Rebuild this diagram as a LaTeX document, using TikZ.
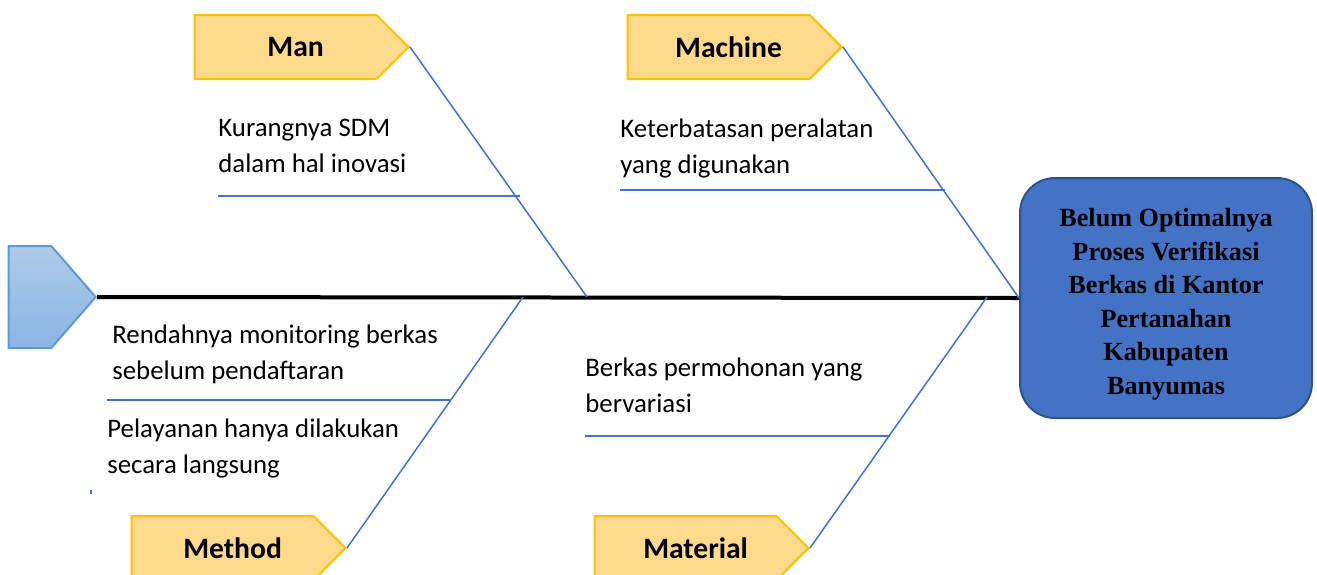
\documentclass[tikz,border=0pt]{standalone}
\usepackage{fontspec}
\setmainfont{Carlito}
\newfontfamily\headfont{Liberation Serif}
\usetikzlibrary{shapes.symbols}

\definecolor{bonecol}{HTML}{4472C4}
\definecolor{catfill}{HTML}{FFD98C}
\definecolor{catline}{HTML}{FFC000}
\definecolor{tailtop}{HTML}{AECAEA}
\definecolor{tailbot}{HTML}{8DB3E2}
\definecolor{tailline}{HTML}{5B9BD5}
\definecolor{headline}{HTML}{2F528F}

\tikzset{
  cat/.style={signal, signal to=east, signal pointer angle=90, draw=catline, fill=catfill,
    line width=1pt, minimum width=107pt, minimum height=32pt, anchor=east,
    font=\fontsize{14.8}{17}\selectfont\bfseries},
  bone/.style={draw=bonecol, line width=0.75pt},
  cause/.style={align=left, anchor=north west, inner sep=0pt,
    font=\fontsize{13.4}{18}\selectfont}
}

\begin{document}
\begin{tikzpicture}[x=0.5pt,y=-0.5pt]
\useasboundingbox (0,0) rectangle (1317,574);

% tail and head
\node[signal, signal to=east, signal pointer angle=98, draw=tailline, line width=1pt,
  top color=tailtop, bottom color=tailbot, minimum width=43.5pt, minimum height=51pt,
  anchor=east] (tail) at (97,297) {};
\node[draw=headline, fill=bonecol, line width=1pt, rounded corners=17.5pt,
  minimum width=146pt, minimum height=120pt] (head) at (1166,298) {};
\node[align=center, font=\headfont\fontsize{13.1}{16.75}\selectfont\bfseries]
  (headtext) at ([yshift=-3pt]head.center)
  {Belum Optimalnya\\Proses Verifikasi\\Berkas di Kantor\\Pertanahan\\Kabupaten\\Banyumas};

% spine
\draw[line width=2pt] (tail.east) -- (head.west);

% categories
\node[cat] (man) at (410,47) {\hspace*{10pt}Man};
\node[cat] (machine) at (843,47) {\hspace*{10pt}Machine};
\node[cat] (method) at (347,548) {\hspace*{10pt}Method};
\node[cat] (material) at (810,548) {\hspace*{10pt}Material};

\coordinate (manend) at (587,297);
\coordinate (methodend) at (523,297);
\coordinate (materialend) at (987,297);

\draw[bone] (man.east) -- (manend);
\draw[bone] (machine.east) -- (head.west);
\draw[bone] (method.east) -- (methodend);
\draw[bone] (material.east) -- (materialend);

% causes
\node[cause] (sdm) at (218,119) {Kurangnya SDM\\dalam hal inovasi};
\draw[bone] (218,196) -- (520,196);
\node[cause] (alat) at (620,118) {Keterbatasan peralatan\\yang digunakan};
\draw[bone] (620,190) -- (945,190);
\node[cause] (monitor) at (112,324) {Rendahnya monitoring berkas\\sebelum pendaftaran};
\draw[bone] (107,400) -- (450,400);
\node[cause] (layan) at (107,418) {Pelayanan hanya dilakukan\\secara langsung};
\node[cause] (berkas) at (585,357) {Berkas permohonan yang\\bervariasi};
\draw[bone] (585,436) -- (890,436);

\fill[bonecol] (90,490) rectangle (92,494);
\end{tikzpicture}
\end{document}
